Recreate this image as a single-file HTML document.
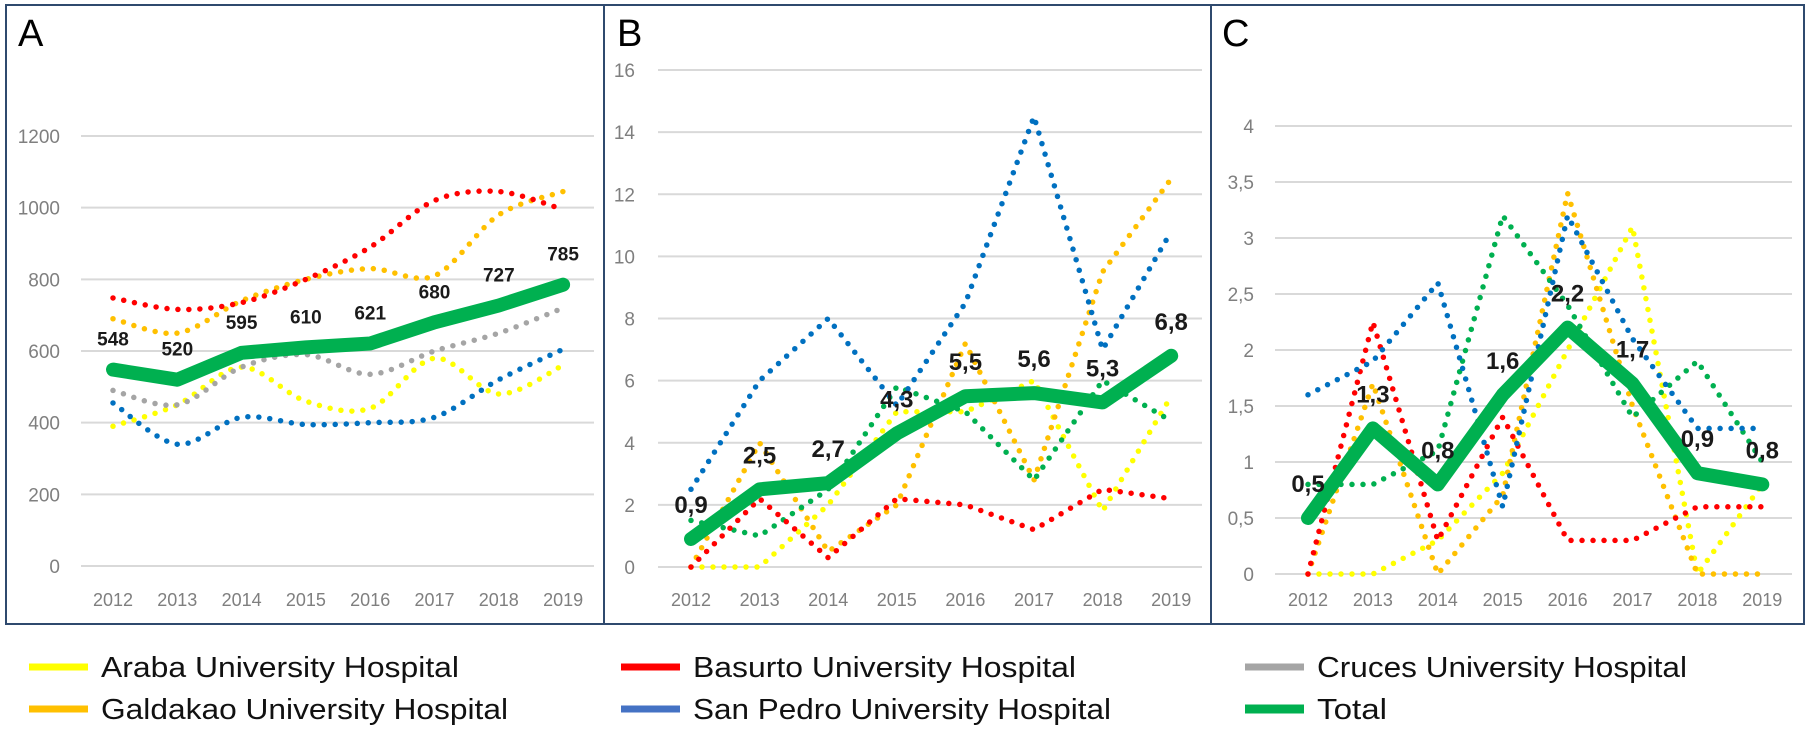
<!DOCTYPE html>
<html><head><meta charset="utf-8">
<style>
html,body{margin:0;padding:0;background:#fff;}
svg{display:block;font-family:"Liberation Sans",sans-serif;}
</style></head>
<body>
<svg id="chart" width="1810" height="733" viewBox="0 0 1810 733" xmlns="http://www.w3.org/2000/svg">
<rect x="6" y="5" width="1798" height="619" fill="none" stroke="#2f4a6e" stroke-width="2"/>
<line x1="604" y1="5" x2="604" y2="624" stroke="#2f4a6e" stroke-width="2"/>
<line x1="1211" y1="5" x2="1211" y2="624" stroke="#2f4a6e" stroke-width="2"/>
<g id="plots"></g>
<g id="legend"></g>
</svg>
<script>
const years = ["2012","2013","2014","2015","2016","2017","2018","2019"];
const seriesNames = ["Araba University Hospital","Basurto University Hospital","Cruces University Hospital","Galdakao University Hospital","San Pedro University Hospital","Total"];
const seriesColors = ["#ffff00","#ff0000","#a5a5a5","#ffc000","#0070c0","#00b050"];

// Panel A
const aTicks = ["0","200","400","600","800","1000","1200"];
const aAraba = [390,450,555,460,440,580,480,560];
const aBasurto = [748,716,735,800,890,1020,1045,995];
const aCruces = [490,450,555,590,535,600,650,720];
const aGaldakao = [690,650,740,800,830,810,980,1045];
const aSanPedro = [455,340,415,395,400,415,520,605];
const aTotal = [548,520,595,610,621,680,727,785];
const aLabels = ["548","520","595","610","621","680","727","785"];

// Panel B
const bTicks = ["0","2","4","6","8","10","12","14","16"];
const bAraba = [0,0,2,5,5,6,1.8,5.5];
const bBasurto = [0,2.2,0.3,2.2,2,1.2,2.5,2.2];
const bGaldakao = [0,4,0.5,2,7.2,2.8,9.5,12.5];
const bSanPedro = [2.5,6,8,5.2,8.5,14.5,7,10.8];
const bGreen = [1.5,1,2.5,5.8,5,2.8,6,4.7];
const bTotal = [0.9,2.5,2.7,4.3,5.5,5.6,5.3,6.8];
const bLabels = ["0,9","2,5","2,7","4,3","5,5","5,6","5,3","6,8"];

// Panel C
const cTicks = ["0","0,5","1","1,5","2","2,5","3","3,5","4"];
const cAraba = [0,0,0.3,0.9,2.0,3.1,0,0.8];
const cBasurto = [0,2.25,0.3,1.4,0.3,0.3,0.6,0.6];
const cGaldakao = [0,1.7,0,0.7,3.4,1.5,0,0];
const cSanPedro = [1.6,1.9,2.6,0.6,3.2,2.1,1.3,1.3];
const cGreen = [0.8,0.8,1.1,3.2,2.4,1.4,1.9,1.0];
const cTotal = [0.5,1.3,0.8,1.6,2.2,1.7,0.9,0.8];
const cLabels = ["0,5","1,3","0,8","1,6","2,2","1,7","0,9","0,8"];

const NS="http://www.w3.org/2000/svg";
const plots=document.getElementById('plots');
function mk(tag,parent){const e=document.createElementNS(NS,tag);parent.appendChild(e);return e;}

function pathStr(pts,smooth){
  if(!smooth) return pts.map((p,i)=>(i?'L':'M')+p[0].toFixed(1)+' '+p[1].toFixed(1)).join(' ');
  let d='M'+pts[0][0]+' '+pts[0][1];
  for(let i=0;i<pts.length-1;i++){
    const p0=pts[Math.max(0,i-1)],p1=pts[i],p2=pts[i+1],p3=pts[Math.min(pts.length-1,i+2)];
    const t=0.16;
    const c1=[p1[0]+(p2[0]-p0[0])*t,p1[1]+(p2[1]-p0[1])*t];
    const c2=[p2[0]-(p3[0]-p1[0])*t,p2[1]-(p3[1]-p1[1])*t];
    d+=` C${c1[0].toFixed(1)} ${c1[1].toFixed(1)} ${c2[0].toFixed(1)} ${c2[1].toFixed(1)} ${p2[0].toFixed(1)} ${p2[1].toFixed(1)}`;
  }
  return d;
}

function panel(cfg){
  const g=mk('g',plots);
  
  
  const t=mk('text',g);
  t.setAttribute('x',cfg.letterX);t.setAttribute('y',46);t.setAttribute('font-size','38');t.setAttribute('fill','#000');
  t.textContent=cfg.id.toUpperCase();
  
  
  const y=v=>cfg.y0-(v-cfg.vmin)/(cfg.vmax-cfg.vmin)*(cfg.y0-cfg.y1);
  const x=i=>cfg.x0+i*cfg.step;
  cfg.ticks.forEach((lab,i)=>{
    const v=cfg.vmin+i*(cfg.vmax-cfg.vmin)/(cfg.ticks.length-1);
    const l=mk('line',g);
    l.setAttribute('x1',cfg.gx0);l.setAttribute('x2',cfg.gx1);l.setAttribute('y1',y(v));l.setAttribute('y2',y(v));
    l.setAttribute('stroke','#d9d9d9');l.setAttribute('stroke-width','2');
    
    
    const tx=mk('text',g);
    tx.setAttribute('x',cfg.labX);tx.setAttribute('y',y(v)+7);tx.setAttribute('text-anchor','end');
    tx.setAttribute('font-size','19');tx.setAttribute('fill','#7f7f7f');
    tx.textContent=lab;
    
    
  });
  years.forEach((yr,i)=>{
    const tx=mk('text',g);
    tx.setAttribute('x',x(i));tx.setAttribute('y',606);tx.setAttribute('text-anchor','middle');
    tx.setAttribute('font-size','18');tx.setAttribute('fill','#7f7f7f');
    tx.textContent=yr;
    
    
  });
  cfg.series.forEach(s=>{
    const p=mk('path',g);
    p.setAttribute('d',pathStr(s.vals.map((v,i)=>[x(i),y(v)]),cfg.smooth));
    p.setAttribute('fill','none');p.setAttribute('stroke',s.color);
    p.setAttribute('stroke-width','5.5');p.setAttribute('stroke-linecap','round');p.setAttribute('stroke-dasharray','0 11');
    
    
  });
  const tp=mk('path',g);
  tp.setAttribute('d',pathStr(cfg.total.map((v,i)=>[x(i),y(v)]),false));
  tp.setAttribute('fill','none');tp.setAttribute('stroke','#00b050');tp.setAttribute('stroke-width','14');
  tp.setAttribute('stroke-linecap','round');tp.setAttribute('stroke-linejoin','round');
  
  
  cfg.total.forEach((v,i)=>{
    const tx=mk('text',g);
    tx.setAttribute('x',x(i));tx.setAttribute('y',y(v)-cfg.labOff);tx.setAttribute('text-anchor','middle');
    tx.setAttribute('font-size',cfg.valSize);tx.setAttribute('font-weight','bold');tx.setAttribute('fill','#1a1a1a');
    tx.textContent=cfg.labels[i];
    
    
  });
}

panel({id:'a',letterX:18,x0:113,step:64.3,y0:566,y1:136,vmin:0,vmax:1200,ticks:aTicks,gx0:81,gx1:594,labX:60,smooth:true,
  series:[{name:'araba',color:'#ffff00',vals:aAraba},{name:'cruces',color:'#a5a5a5',vals:aCruces},{name:'san-pedro',color:'#0070c0',vals:aSanPedro},{name:'galdakao',color:'#ffc000',vals:aGaldakao},{name:'basurto',color:'#ff0000',vals:aBasurto}],
  total:aTotal,labels:aLabels,labOff:24,valSize:19});
panel({id:'b',letterX:617,x0:691,step:68.6,y0:567,y1:70,vmin:0,vmax:16,ticks:bTicks,gx0:658,gx1:1202,labX:635,smooth:false,
  series:[{name:'araba',color:'#ffff00',vals:bAraba},{name:'galdakao',color:'#ffc000',vals:bGaldakao},{name:'green',color:'#00b050',vals:bGreen},{name:'basurto',color:'#ff0000',vals:bBasurto},{name:'san-pedro',color:'#0070c0',vals:bSanPedro}],
  total:bTotal,labels:bLabels,labOff:26,valSize:24});
panel({id:'c',letterX:1222,x0:1308,step:64.9,y0:574,y1:126,vmin:0,vmax:4,ticks:cTicks,gx0:1275,gx1:1792,labX:1254,smooth:false,
  series:[{name:'araba',color:'#ffff00',vals:cAraba},{name:'galdakao',color:'#ffc000',vals:cGaldakao},{name:'green',color:'#00b050',vals:cGreen},{name:'basurto',color:'#ff0000',vals:cBasurto},{name:'san-pedro',color:'#0070c0',vals:cSanPedro}],
  total:cTotal,labels:cLabels,labOff:26,valSize:24});

const legend=document.getElementById('legend');
const legPos=[[29,667],[621,667],[1245,667],[29,709],[621,709],[1245,709]];
const legWidths=[358,383,370,407,418,70];
const legColors=["#ffff00","#ff0000","#a5a5a5","#ffc000","#4472c4","#00b050"];
[0,1,2,3,4,5].forEach((si,k)=>{
  const [lx,ly]=legPos[k];
  const g=mk('g',legend);
  
  
  const l=mk('line',g);
  l.setAttribute('x1',lx);l.setAttribute('x2',lx+59);l.setAttribute('y1',ly);l.setAttribute('y2',ly);
  l.setAttribute('stroke',legColors[si]);l.setAttribute('stroke-width',si===5?9:7);
  const t=mk('text',g);
  t.setAttribute('x',lx+72);t.setAttribute('y',ly+10);t.setAttribute('font-size','29');t.setAttribute('fill','#111');
  t.setAttribute('textLength',legWidths[si]);t.setAttribute('lengthAdjust','spacingAndGlyphs');
  t.textContent=seriesNames[si];
});
</script>
</body></html>
